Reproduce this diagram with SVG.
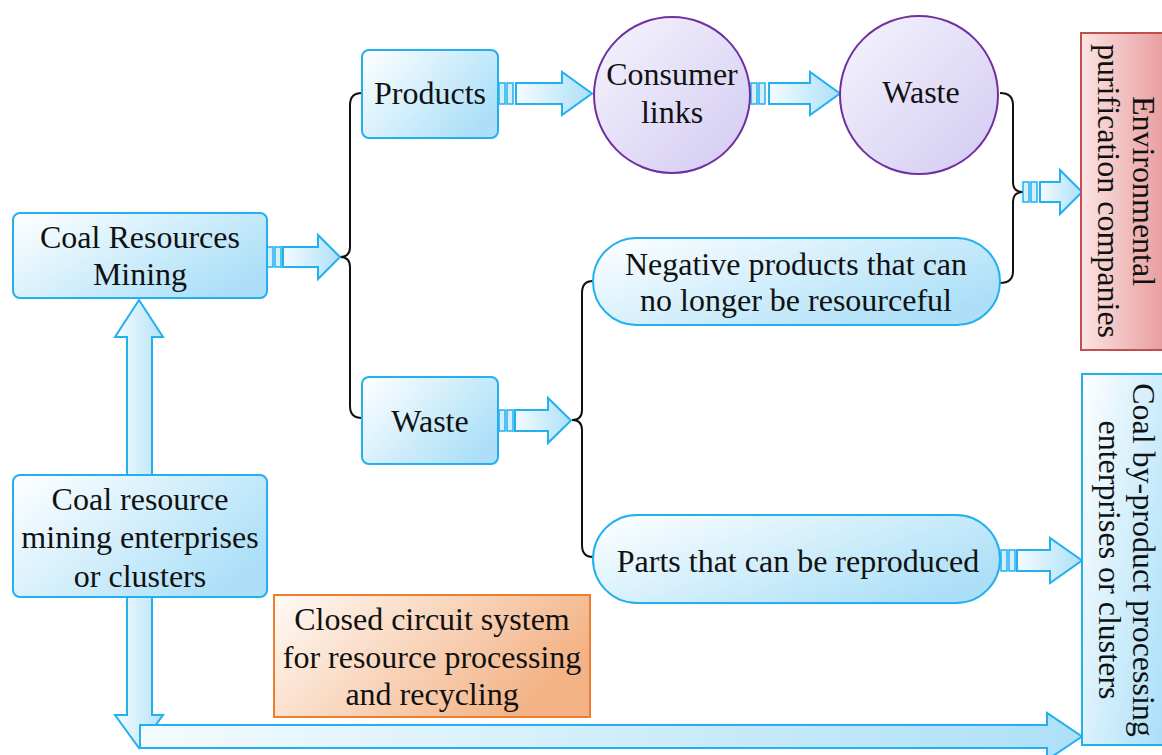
<svg xmlns="http://www.w3.org/2000/svg" width="1162" height="755" viewBox="0 0 1162 755">
<style>
.t{font-family:"Liberation Serif","Times New Roman",serif;font-size:32px;fill:#111;text-anchor:middle}
.bx{fill:url(#gBlue);stroke:#22b0ef;stroke-width:2}
.ci{fill:url(#gPurple);stroke:#7030a0;stroke-width:2}
.ar{fill:url(#gArrow);stroke:#22b0ef;stroke-width:2;stroke-linejoin:miter}
.bar{fill:#d4effc;stroke:#22b0ef;stroke-width:1.5}
.br{fill:none;stroke:#111;stroke-width:2}
</style>
<defs>
<linearGradient id="gBlue" x1="0" y1="0" x2="1" y2="0.6"><stop offset="0" stop-color="#ffffff"/><stop offset="1" stop-color="#ade0f8"/></linearGradient>
<linearGradient id="gArrow" x1="0" y1="0" x2="1" y2="0"><stop offset="0" stop-color="#f4fbff"/><stop offset="1" stop-color="#ade0f8"/></linearGradient>
<linearGradient id="gArrowV" x1="0" y1="0" x2="1" y2="0"><stop offset="0" stop-color="#f4fbff"/><stop offset="1" stop-color="#b5e3f8"/></linearGradient>
<linearGradient id="gPurple" x1="0" y1="0" x2="1" y2="1"><stop offset="0" stop-color="#f6f4fd"/><stop offset="1" stop-color="#d2caf2"/></linearGradient>
<linearGradient id="gRed" x1="0" y1="0" x2="1" y2="0"><stop offset="0" stop-color="#fbe4e4"/><stop offset="1" stop-color="#e58f8f"/></linearGradient>
<linearGradient id="gOrange" x1="0" y1="0" x2="1" y2="0.4"><stop offset="0" stop-color="#fffaf6"/><stop offset="1" stop-color="#f3b386"/></linearGradient>
</defs>
<rect width="1162" height="755" fill="#ffffff"/>

<g id="connectors">
  <path class="br" d="M362,93 Q350,93 350,105 L350,247 Q350,257 340,257 Q350,257 350,267 L350,406 Q350,418 362,418"/>
  <path class="br" d="M593,281 Q582,281 582,293 L582,410 Q582,420 572,420 Q582,420 582,430 L582,545 Q582,557 593,557"/>
  <path class="br" d="M1000,93 Q1013,93 1013,105 L1013,182 Q1013,192 1023,192 Q1013,192 1013,202 L1013,271 Q1013,283 1000,283"/>
  <rect class="bar" x="267" y="247" width="6" height="20"/><rect class="bar" x="275" y="247" width="6" height="20"/>
  <polygon class="ar" points="283,247 318,247 318,235 340,257 318,279 318,267 283,267"/>
  <rect class="bar" x="499" y="83" width="6" height="21"/><rect class="bar" x="507" y="83" width="6" height="21"/>
  <polygon class="ar" points="516,83 562,83 562,72 592,93.5 562,115 562,104 516,104"/>
  <rect class="bar" x="751" y="83" width="6" height="21"/><rect class="bar" x="759" y="83" width="6" height="21"/>
  <polygon class="ar" points="769,83 810,83 810,72 840,93.5 810,115 810,104 769,104"/>
  <rect class="bar" x="499" y="410" width="6" height="21"/><rect class="bar" x="507" y="410" width="6" height="21"/>
  <polygon class="ar" points="515,410 548,410 548,398 571,420.5 548,443 548,431 515,431"/>
  <rect class="bar" x="1023" y="182" width="6" height="20"/><rect class="bar" x="1031" y="182" width="6" height="20"/>
  <polygon class="ar" points="1040,182 1060,182 1060,170 1082,192 1060,214 1060,202 1040,202"/>
  <rect class="bar" x="1001" y="550" width="6" height="21"/><rect class="bar" x="1009" y="550" width="6" height="21"/>
  <polygon class="ar" points="1017,550 1050,550 1050,538 1082,560.5 1050,583 1050,571 1017,571"/>
  <polygon points="127,475 127,337 115,337 139,300 163,337 152,337 152,475" fill="url(#gArrowV)" stroke="#22b0ef" stroke-width="2"/>
  <polygon points="127,597 127,715 115,715 139,748 163,715 152,715 152,597" fill="url(#gArrowV)" stroke="#22b0ef" stroke-width="2"/>
  <polygon class="ar" points="140,725 1047,725 1047,713 1082,736.5 1047,760 1047,748 140,748"/>
</g>

<g id="node-mining">
  <rect class="bx" x="13" y="213" width="254" height="85" rx="7"/>
  <text class="t" x="140" y="248">Coal Resources</text>
  <text class="t" x="140" y="285">Mining</text>
</g>
<g id="node-products">
  <rect class="bx" x="362" y="50" width="136" height="88" rx="7"/>
  <text class="t" x="430" y="104">Products</text>
</g>
<g id="node-consumer">
  <circle class="ci" cx="672" cy="95" r="78"/>
  <text class="t" x="672" y="85">Consumer</text>
  <text class="t" x="672" y="123">links</text>
</g>
<g id="node-waste-circle">
  <circle class="ci" cx="919" cy="95" r="79"/>
  <text class="t" x="921" y="103">Waste</text>
</g>
<g id="node-environmental">
  <rect x="1081" y="33" width="100" height="317" fill="url(#gRed)" stroke="#c0504d" stroke-width="2"/>
  <text class="t" transform="translate(1133,191) rotate(90)">Environmental</text>
  <text class="t" transform="translate(1098,191) rotate(90)">purification companies</text>
</g>
<g id="node-negative">
  <rect class="bx" x="593" y="238" width="407" height="87" rx="43.5"/>
  <text class="t" x="796" y="275">Negative products that can</text>
  <text class="t" x="796" y="311">no longer be resourceful</text>
</g>
<g id="node-waste-box">
  <rect class="bx" x="362" y="377" width="136" height="87" rx="7"/>
  <text class="t" x="430" y="432">Waste</text>
</g>
<g id="node-parts">
  <rect class="bx" x="593" y="515" width="407" height="88" rx="44"/>
  <text class="t" x="798" y="572">Parts that can be reproduced</text>
</g>
<g id="node-byproduct">
  <rect class="bx" x="1082" y="374" width="100" height="371"/>
  <text class="t" transform="translate(1133,560) rotate(90)">Coal by-product processing</text>
  <text class="t" transform="translate(1099,560) rotate(90)">enterprises or clusters</text>
</g>
<g id="node-enterprises">
  <rect class="bx" x="13" y="475" width="254" height="122" rx="7"/>
  <text class="t" x="140" y="510">Coal resource</text>
  <text class="t" x="140" y="548">mining enterprises</text>
  <text class="t" x="140" y="587">or clusters</text>
</g>
<g id="node-closed">
  <rect x="274" y="595" width="316" height="122" fill="url(#gOrange)" stroke="#ed7d31" stroke-width="2"/>
  <text class="t" x="432" y="630">Closed circuit system</text>
  <text class="t" x="432" y="668">for resource processing</text>
  <text class="t" x="432" y="705">and recycling</text>
</g>
</svg>
